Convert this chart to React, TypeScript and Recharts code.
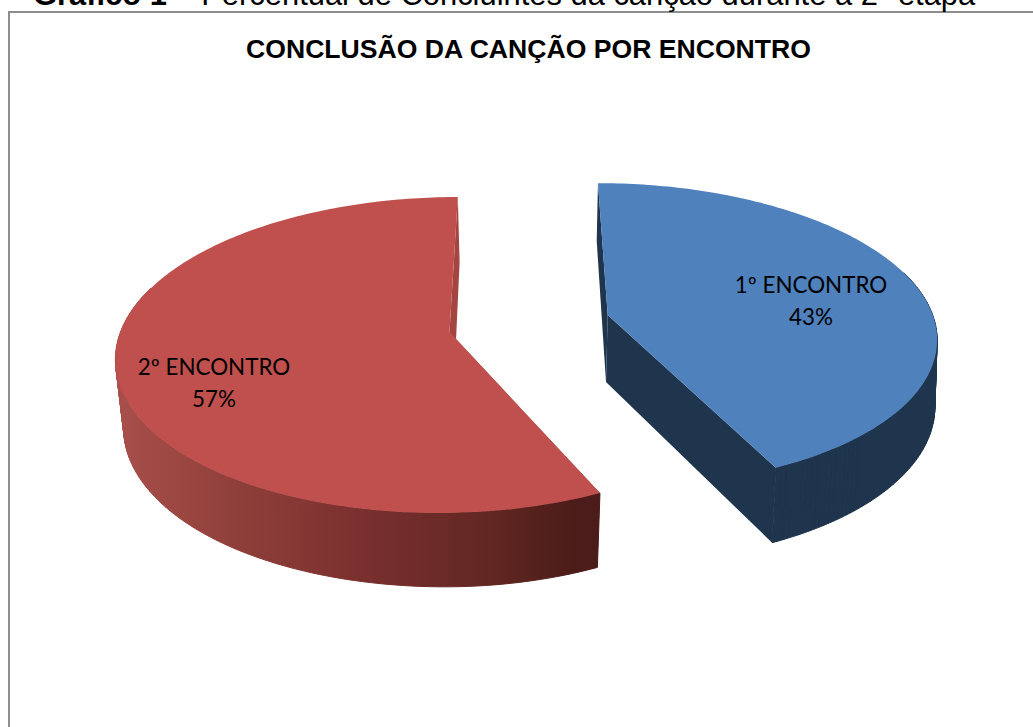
import React from "react";
import { PieChart, Pie } from "recharts";

const categories = ["1º ENCONTRO", "2º ENCONTRO"];
const seriesValues = [43, 57];
const chartTitle = "CONCLUSÃO DA CANÇÃO POR ENCONTRO";
const captionBold = "Gráfico 1";
const captionRest = " –  Percentual de Concluintes da canção durante a 2ª etapa";

const data = categories.map((name, i) => ({ name, value: seriesValues[i] }));

type Rim = { cx: number; cy: number; rxL: number; rxR: number; ry: number; k: number; s: number };
type Look = { top: Rim; bottom: Rim; face: string; wall: string; cut: string; lx: number; ly: number };

const looks: Record<string, Look> = {
  "1º ENCONTRO": {
    top: { cx: 607.7, cy: 315, rxL: 325, rxR: 325, ry: 149, k: 0.13, s: -11 },
    bottom: { cx: 606, cy: 382, rxL: 325, rxR: 325, ry: 158, k: 0.122, s: -10.4 },
    face: "#4F81BD",
    wall: "#1F344D",
    cut: "#1F344D",
    lx: 811,
    ly: 293,
  },
  "2º ENCONTRO": {
    top: { cx: 449.5, cy: 332, rxL: 329, rxR: 327, ry: 154.6, k: 0.1456, s: 9.5 },
    bottom: { cx: 453, cy: 405, rxL: 326, rxR: 318, ry: 160, k: 0.12, s: 7.4 },
    face: "#C0504D",
    wall: "url(#redWall)",
    cut: "#A54542",
    lx: 214,
    ly: 375,
  },
};

const project = (rim: Rim, deg: number): [number, number] => {
  const a = (deg * Math.PI) / 180;
  const u = Math.cos(a);
  const v = Math.sin(a);
  const w = 1 + rim.k * v;
  const rx = u < 0 ? rim.rxL : rim.rxR;
  return [rim.cx + (rx * u + rim.s * v) / w, rim.cy - (rim.ry * v) / w];
};

const arc = (rim: Rim, a0: number, a1: number): [number, number][] => {
  const n = Math.max(2, Math.ceil(Math.abs(a1 - a0)));
  const pts: [number, number][] = [];
  for (let i = 0; i <= n; i++) pts.push(project(rim, a0 + ((a1 - a0) * i) / n));
  return pts;
};

const poly = (pts: [number, number][]) =>
  "M" + pts.map((p) => `${p[0].toFixed(2)},${p[1].toFixed(2)}`).join("L") + "Z";

const Slice3D = (props: any) => {
  const name = props.name ?? props.payload?.name;
  const look = looks[name];
  const { startAngle, endAngle } = props;
  const topArc = arc(look.top, startAngle, endAngle);
  const botArc = arc(look.bottom, startAngle, endAngle);
  const topC: [number, number] = [look.top.cx, look.top.cy];
  const botC: [number, number] = [look.bottom.cx, look.bottom.cy];
  const strips: string[] = [];
  const n = topArc.length - 1;
  for (let i = 0; i < n; i++) {
    const mid = startAngle + ((endAngle - startAngle) * (i + 0.5)) / n;
    if (Math.sin((mid * Math.PI) / 180) < 0.3) {
      strips.push(poly([topArc[i], topArc[i + 1], botArc[i + 1], botArc[i]]));
    }
  }
  return (
    <g>
      <defs>
        <linearGradient id="redWall" gradientUnits="userSpaceOnUse" x1="118" y1="0" x2="600" y2="0">
          <stop offset="0" stopColor="#A84F4A" />
          <stop offset="0.25" stopColor="#8F3F3A" />
          <stop offset="0.5" stopColor="#7A302E" />
          <stop offset="0.75" stopColor="#642823" />
          <stop offset="0.95" stopColor="#4B1C19" />
        </linearGradient>
      </defs>
      <path d={poly([topC, topArc[0], botArc[0], botC])} fill={look.cut} />
      <path d={poly([topC, topArc[n], botArc[n], botC])} fill={look.cut} />
      <path d={strips.join("")} fill={look.wall} stroke={look.wall} strokeWidth={1} />
      <path d={poly([topC, ...topArc])} fill={look.face} />
    </g>
  );
};

const SliceLabel = (props: any) => {
  const look = looks[props.name ?? props.payload?.name];
  const pct = `${Math.round(props.percent * 100)}%`;
  return (
    <text fontFamily="Lato" fontSize={22.4} fill="#000" textAnchor="middle">
      <tspan x={look.lx} y={look.ly}>{props.name}</tspan>
      <tspan x={look.lx} y={look.ly + 32}>{pct}</tspan>
    </text>
  );
};

export default function App() {
  return (
    <div style={{ position: "absolute", left: 0, top: 0, width: 1033, height: 727, overflow: "hidden", background: "#fff" }}>
      <PieChart width={1033} height={727} margin={{ top: 0, right: 0, bottom: 0, left: 0 }}>
        <rect x={9} y={12} width={1200} height={900} fill="#fff" stroke="#8E8E8E" strokeWidth={2} />
        <text x={33} y={5} fontFamily="Liberation Sans" fontSize={30.9} fill="#000">
          <tspan fontWeight="bold">{captionBold}</tspan>
          <tspan>{captionRest}</tspan>
        </text>
        <text x={528.5} y={58} textAnchor="middle" fontFamily="Liberation Sans" fontWeight="bold" fontSize={26.6} fill="#000">
          {chartTitle}
        </text>
        <Pie
          data={data}
          dataKey="value"
          nameKey="name"
          cx={520}
          cy={350}
          outerRadius={300}
          startAngle={90}
          endAngle={-270}
          stroke="none"
          isAnimationActive={false}
          shape={Slice3D}
          label={SliceLabel}
          labelLine={false}
        />
      </PieChart>
    </div>
  );
}
